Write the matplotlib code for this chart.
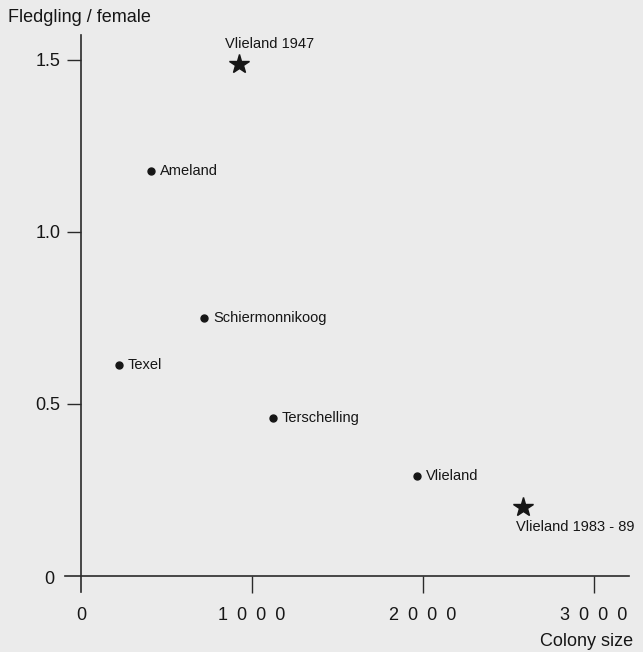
import numpy as np
import matplotlib
matplotlib.use("Agg")
import matplotlib.pyplot as plt

# colonies (dots) and the two Vlieland reference years (stars)
colonies = ['Ameland', 'Schiermonnikoog', 'Texel', 'Terschelling', 'Vlieland']
colony_size = [409, 719, 222, 1123, 1965]
fledglings = [1.177, 0.75, 0.613, 0.459, 0.291]

star_names = ['Vlieland 1947', 'Vlieland 1983 - 89']
star_size = [924, 2585]
star_fledglings = [1.488, 0.20]

x_ticks = [1000, 2000, 3000]
x_ticklabels = ['1\u20020\u20020\u20020', '2\u20020\u20020\u20020', '3\u20020\u20020\u20020']
y_ticks = [0.5, 1.0, 1.5]
y_ticklabels = ['0.5', '1.0', '1.5']

bg = '#ebebeb'
ink = '#161616'
plt.rcParams['font.family'] = ['Liberation Sans', 'DejaVu Sans']

W, H = 643, 652
fig = plt.figure(figsize=(W / 100, H / 100), dpi=100, facecolor=bg)
ax = fig.add_axes([65 / W, 1 - 592 / H, (629 - 65) / W, (592 - 35) / H])
ax.set_facecolor(bg)
# pixel layout: x=0 at 81 px, 1000 units = 171 px; y=0 at 576 px, 0.5 = 172 px
ax.set_xlim(-16 / 0.171, (629 - 81) / 0.171)
ax.set_ylim(-16 / 344, (576 - 35) / 344)

for s in ['top', 'right']:
    ax.spines[s].set_visible(False)
ax.spines['left'].set_position(('data', 0))
ax.spines['bottom'].set_position(('data', 0))
for s in ['left', 'bottom']:
    ax.spines[s].set_color('#2a2a2a')
    ax.spines[s].set_linewidth(1.2)

ax.set_xticks(x_ticks)
ax.set_xticklabels(x_ticklabels)
ax.set_yticks(y_ticks)
ax.set_yticklabels(y_ticklabels)
ax.tick_params(axis='x', direction='out', length=12, width=1.0, color='#2a2a2a',
               pad=10, labelsize=13, labelcolor=ink)
ax.tick_params(axis='y', direction='out', length=10, width=1.0, color='#2a2a2a',
               pad=5, labelsize=13, labelcolor=ink)

# the two zero labels sit apart from the other ticks
ax.annotate('0', xy=(0, 0), xytext=(-32, -4), textcoords='offset pixels',
            ha='center', va='center', fontsize=13, color=ink)
ax.annotate('0', xy=(0, 0), xytext=(0, -39), textcoords='offset pixels',
            ha='center', va='center', fontsize=13, color=ink)

ax.plot(colony_size, fledglings, 'o', color=ink, markersize=5, clip_on=False)
for name, x, y in zip(colonies, colony_size, fledglings):
    ax.annotate(name, xy=(x, y), xytext=(9, 0), textcoords='offset pixels',
                ha='left', va='center', fontsize=10.5, color=ink)

ax.plot(star_size, star_fledglings, '*', color=ink, markersize=15, clip_on=False)
ax.annotate(star_names[0], xy=(star_size[0], star_fledglings[0]),
            xytext=(-14, 20), textcoords='offset pixels',
            ha='left', va='center', fontsize=10.5, color=ink)
ax.annotate(star_names[1], xy=(star_size[1], star_fledglings[1]),
            xytext=(-7, -20), textcoords='offset pixels',
            ha='left', va='center', fontsize=10.5, color=ink)

fig.text(8 / W, 1 - 17 / H, 'Fledgling / female', ha='left', va='center',
         fontsize=13, color=ink)
fig.text(633 / W, 1 - 642 / H, 'Colony size', ha='right', va='center',
         fontsize=13, color=ink)

fig.savefig('out.png', dpi=100, facecolor=bg)
